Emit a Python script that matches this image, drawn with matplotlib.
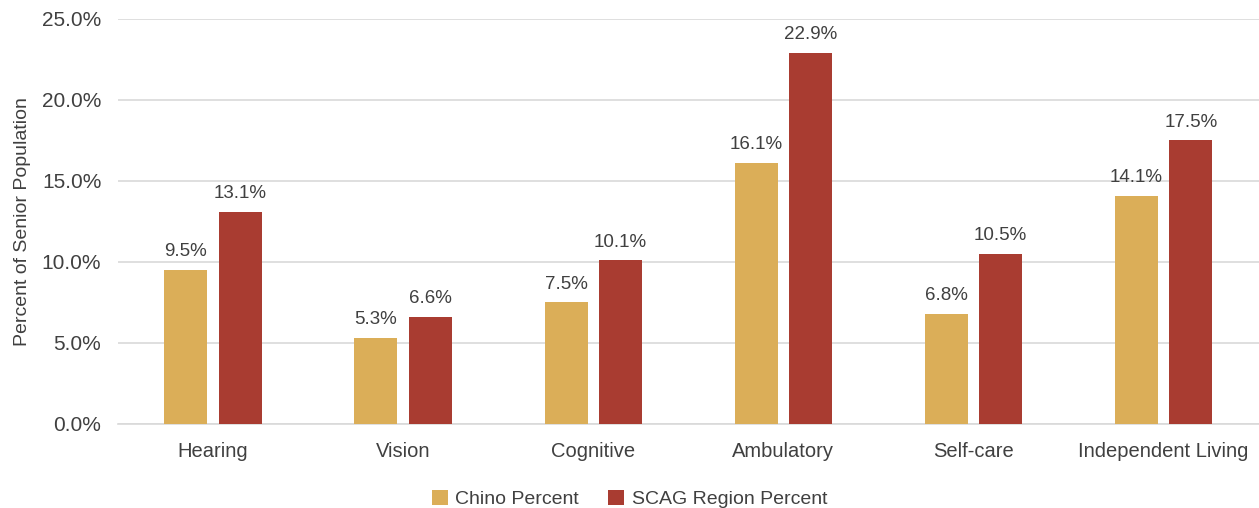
import matplotlib.pyplot as plt
import numpy as np

categories = ['Hearing', 'Vision', 'Cognitive', 'Ambulatory', 'Self-care', 'Independent Living']
chino = [9.5, 5.3, 7.5, 16.1, 6.8, 14.1]
scag = [13.1, 6.6, 10.1, 22.9, 10.5, 17.5]
yticks = [0, 5, 10, 15, 20, 25]

gold = '#DBAE58'
red = '#A93C31'
txt = '#404040'

plt.rcParams['font.family'] = ['Liberation Sans', 'DejaVu Sans']

fig = plt.figure(figsize=(12.59, 5.08), dpi=100)
ax = fig.add_axes([0.0937, 0.1654, 0.906, 0.7972])

x = np.arange(len(categories))
w = 0.226
b1 = ax.bar(x - 0.143, chino, w, color=gold, label='Chino Percent', zorder=3)
b2 = ax.bar(x + 0.143, scag, w, color=red, label='SCAG Region Percent', zorder=3)

for bars, vals in [(b1, chino), (b2, scag)]:
    for r, v in zip(bars, vals):
        ax.annotate(f'{v:.1f}%', (r.get_x() + r.get_width() / 2, v),
                    xytext=(0, 7), textcoords='offset points',
                    ha='center', va='bottom', fontsize=13.5, color=txt)

ax.set_xlim(-0.5, len(categories) - 0.5)
ax.set_ylim(0, 25)
ax.set_yticks(yticks)
ax.set_yticklabels([f'{t:.1f}%' for t in yticks])
ax.set_xticks(x)
ax.set_xticklabels(categories)
ax.tick_params(axis='y', length=0, labelsize=15, colors=txt, pad=12)
ax.tick_params(axis='x', length=0, labelsize=14.5, colors=txt, pad=13)
ax.grid(axis='y', color='#D9D9D9', linewidth=1.2, zorder=0)
for s in ['top', 'right', 'left']:
    ax.spines[s].set_visible(False)
ax.spines['bottom'].set_color('#D9D9D9')
ax.spines['bottom'].set_linewidth(1.2)
ax.set_ylabel('Percent of Senior Population', fontsize=14, color=txt, labelpad=8)

fig.legend(loc='lower center', bbox_to_anchor=(0.5, -0.035), ncol=2, frameon=False,
           fontsize=14, labelcolor=txt, handlelength=0.8, handleheight=0.8,
           handletextpad=0.4, columnspacing=1.5)

fig.savefig('out.png', dpi=100)
